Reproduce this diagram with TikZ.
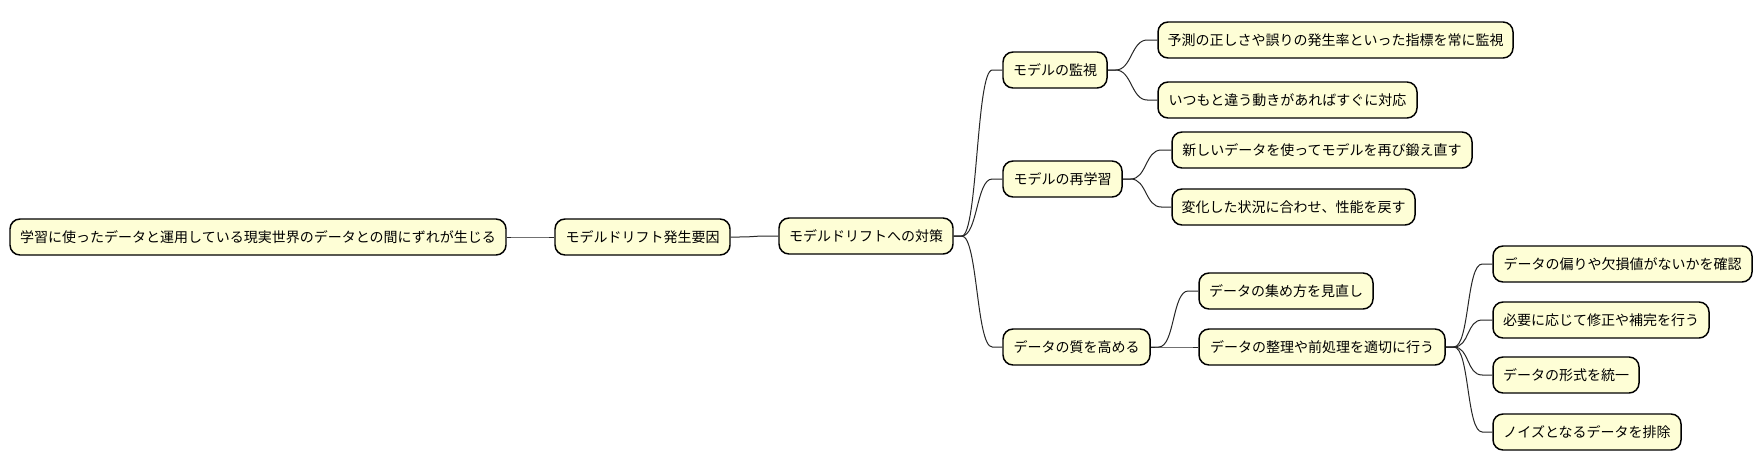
\documentclass[tikz,border=0pt]{standalone}
\usepackage{fontspec}
\setmainfont{Noto Sans CJK JP}
\definecolor{boxfill}{HTML}{FEFED6}
\tikzset{
  box/.style={draw=black, line width=1.1pt, fill=boxfill, rounded corners=7.5pt,
    minimum height=27pt, inner sep=0pt, font=\fontsize{10.5pt}{12pt}\selectfont},
  link/.style={draw=black!85, line width=0.75pt}
}
\newcommand\bx[5]{\node[box, minimum width={#4*0.75pt}] (#1) at (#2,#3) {#5};}
\newcommand\lnk[2]{\draw[link] (#1.east) -- ([xshift=6pt]#1.east) .. controls +(16,0) and +(-16,0) .. ([xshift=-7.5pt]#2.west) -- (#2.west);}
\begin{document}
\begin{tikzpicture}[x=0.75pt,y=-0.75pt]
\fill[white] (0,0) rectangle (1762,471);
\useasboundingbox (0,0) rectangle (1762,471);
\bx{root}{258}{237}{496}{学習に使ったデータと運用している現実世界のデータとの間にずれが生じる}
\bx{n1}{642.5}{237}{175}{モデルドリフト発生要因}
\bx{n2}{866}{236}{174}{モデルドリフトへの対策}
\bx{a}{1055}{70}{104}{モデルの監視}
\bx{a1}{1335.5}{40}{355}{予測の正しさや誤りの発生率といった指標を常に監視}
\bx{a2}{1287.5}{100}{259}{いつもと違う動きがあればすぐに対応}
\bx{b}{1062.5}{179}{119}{モデルの再学習}
\bx{b1}{1322}{150}{300}{新しいデータを使ってモデルを再び鍛え直す}
\bx{b2}{1293.5}{207}{243}{変化した状況に合わせ、性能を戻す}
\bx{c}{1076.5}{347}{147}{データの質を高める}
\bx{c1}{1286}{291}{174}{データの集め方を見直し}
\bx{c2}{1322}{347}{246}{データの整理や前処理を適切に行う}
\bx{d1}{1622.5}{264}{259}{データの偏りや欠損値がないかを確認}
\bx{d2}{1601}{320}{216}{必要に応じて修正や補完を行う}
\bx{d3}{1566}{375}{146}{データの形式を統一}
\bx{d4}{1587}{432}{188}{ノイズとなるデータを排除}
\lnk{root}{n1}
\lnk{n1}{n2}
\lnk{n2}{a}
\lnk{n2}{b}
\lnk{n2}{c}
\lnk{a}{a1}
\lnk{a}{a2}
\lnk{b}{b1}
\lnk{b}{b2}
\lnk{c}{c1}
\lnk{c}{c2}
\lnk{c2}{d1}
\lnk{c2}{d2}
\lnk{c2}{d3}
\lnk{c2}{d4}
\end{tikzpicture}
\end{document}
